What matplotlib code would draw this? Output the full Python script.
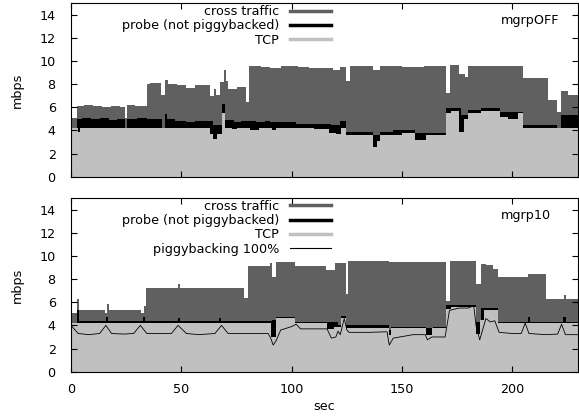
import numpy as np
import matplotlib.pyplot as plt
from matplotlib.lines import Line2D

# ---- mgrpOFF (top panel), step breakpoints: time [sec], rate [mbps] ----
off_cross_t = [0, 2.7, 6, 10, 14, 18, 22, 24.3, 25.5, 29, 34.5, 36, 41, 42.7, 44, 48, 52, 56,
               62.9, 64.8, 65.8, 67.4, 69.4, 70.4, 71.2, 75, 79.5, 80.5, 86, 90, 95, 103, 108,
               118.7, 122, 124.7, 126.2, 137, 140, 150, 160, 170.1, 171.6, 176, 178.4, 180,
               190, 204.8, 216.1, 220, 222.2, 225, 229.6]
off_cross_v = [5.1, 6.1, 6.2, 6.1, 6.0, 6.1, 6.0, 5.1, 6.2, 6.1, 8.0, 8.1, 7.1, 8.4, 8.0, 7.9, 7.7, 7.9,
               7.0, 7.6, 7.1, 8.2, 9.2, 8.3, 7.6, 7.8, 6.5, 9.6, 9.5, 9.4, 9.6, 9.5, 9.4,
               9.2, 9.5, 8.3, 9.6, 9.2, 9.6, 9.5, 9.6, 7.2, 9.7, 8.9, 8.6, 9.6,
               9.6, 8.5, 6.6, 5.6, 7.4, 7.1, 7.1]

off_probe_t = [0, 2.7, 5, 9, 13, 17, 21, 24.3, 25.5, 30, 34.5, 41.3, 42.7, 43.5, 47, 52, 56,
               63, 64.5, 68.5, 70, 74, 77, 80, 84, 88, 90, 95, 102, 112, 118, 122, 124.7,
               137, 140, 146, 156, 170.1, 176.9, 179.9, 186, 194.2, 204.8, 220, 222.2, 229.6]
off_probe_v = [4.2, 5.0, 5.1, 5.0, 5.1, 4.9, 5.0, 4.2, 5.0, 5.1, 5.0, 4.2, 5.4, 5.0, 4.8, 4.7, 4.8,
               4.8, 4.5, 6.3, 4.9, 4.7, 4.8, 4.8, 4.7, 4.8, 4.7, 4.7, 4.6, 4.6, 4.5, 4.8, 3.9,
               3.6, 3.9, 4.0, 3.8, 5.9, 5.3, 5.8, 5.9, 5.6, 4.5, 4.2, 5.3, 5.3]

off_tcp_t = [0, 3, 4, 63, 64.5, 66, 68.5, 70, 73, 75, 81, 85, 91, 93, 110, 117, 120, 122.5,
             124.7, 137, 138.5, 140, 150, 156, 161, 170.1, 172.4, 176, 178, 179.9, 186, 194.2,
             198, 202.6, 204.8, 229.6]
off_tcp_v = [4.2, 3.9, 4.2, 3.7, 3.3, 3.7, 5.5, 4.2, 4.1, 4.2, 4.0, 4.2, 4.0, 4.2, 4.1, 3.8, 3.7, 4.2,
             3.6, 2.6, 3.1, 3.6, 3.8, 3.2, 3.6, 5.5, 5.7, 3.9, 5.0, 5.5, 5.7, 5.2,
             5.0, 5.5, 4.2, 4.2]

# ---- mgrp10 (bottom panel) ----
m10_cross_t = [0, 2.8, 3.5, 15.5, 16.5, 17.3, 31.5, 33, 34.2, 48.5, 49.5, 78.5, 80, 90, 91.2,
               93, 101.5, 115.7, 119.4, 124.6, 125.4, 144, 170, 171.6, 183.7, 186, 188, 191,
               193.5, 207, 215.3, 222, 223.5, 224.5, 229.6]
m10_cross_v = [5.1, 6.3, 5.35, 5.1, 5.85, 5.35, 5.1, 5.7, 7.26, 7.6, 7.26, 6.4, 9.1, 9.4, 8.2,
               9.5, 9.1, 8.8, 9.4, 6.7, 9.55, 9.5, 6.1, 9.6, 7.6, 9.3, 9.2, 8.9,
               8.2, 8.4, 6.3, 6.3, 6.6, 6.3, 6.3]

m10_probe_t = [0, 2.8, 3.6, 15.8, 16.6, 32.8, 33.6, 48.5, 49.5, 67, 68, 90, 91, 93, 101.5,
               117, 121, 122.5, 124.7, 144, 145, 161, 164, 170.1, 183.5, 186, 193.5,
               207, 208.2, 223, 224.2, 229.6]
m10_probe_v = [4.2, 5.35, 4.35, 4.7, 4.35, 4.7, 4.35, 4.6, 4.35, 4.6, 4.35, 4.4, 4.5, 4.7, 4.3,
               4.3, 4.0, 4.8, 4.0, 3.6, 3.9, 3.8, 3.9, 5.8, 4.3, 5.5, 4.3,
               4.7, 4.3, 4.7, 4.3, 4.3]

m10_tcp_t = [0, 90.5, 93, 101.5, 116, 119, 122.5, 124.7, 144, 145, 161, 163.5, 170.1, 172.4,
             183.5, 185.5, 187, 193.5, 229.6]
m10_tcp_v = [4.2, 3.0, 4.6, 4.2, 3.7, 3.9, 4.6, 3.75, 3.2, 3.75, 3.2, 3.75, 5.4, 5.6,
             3.3, 4.5, 5.3, 4.2, 4.2]

m10_pig_t = [0, 3.3, 8, 13, 15.8, 18.4, 24, 28.4, 31.4, 34.4, 40, 45.5, 48.5, 52.3, 58, 65.2,
             68.2, 71.2, 80, 89.3, 90.5, 91.6, 93, 95, 100, 102, 104, 116, 118, 120, 121, 122,
             123.8, 125, 126, 135, 143.2, 144.2, 146, 155, 160.5, 161.5, 163.5, 169.5, 171.5,
             176, 180, 182.5, 183.5, 185.2, 188, 190, 192, 194, 200, 204, 205.8, 207.5, 215,
             220.5, 222.3, 224, 229.6]
m10_pig_v = [4.0, 3.3, 3.2, 3.3, 4.0, 3.3, 3.25, 3.3, 4.0, 3.3, 3.3, 3.3, 4.0, 3.3, 3.2, 3.3,
             4.0, 3.3, 3.3, 3.3, 2.9, 2.3, 2.7, 3.6, 3.9, 4.1, 3.7, 3.7, 2.9, 3.0, 3.5, 3.2,
             4.6, 3.6, 3.4, 3.4, 3.45, 2.3, 2.9, 3.2, 3.2, 2.75, 3.0, 3.0, 5.3,
             5.5, 5.5, 5.7, 4.0, 2.75, 4.6, 4.3, 4.4, 3.4, 3.3, 3.3, 4.2, 3.3, 3.2,
             3.25, 4.1, 3.2, 3.2]

C_CROSS = "#606060"
C_PROBE = "#000000"
C_TCP = "#c0c0c0"
FS = 9.2

fig = plt.figure(figsize=(5.79, 4.17), dpi=100)
ax1 = fig.add_axes([0.1226, 0.5763, 0.8752, 0.4158])
ax2 = fig.add_axes([0.1226, 0.1086, 0.8752, 0.4165])


def draw_panel(ax, cross, probe, tcp, pig, name):
    ax.fill_between(cross[0], 0, cross[1], step="post", color=C_CROSS, lw=0)
    ax.fill_between(probe[0], 0, probe[1], step="post", color=C_PROBE, lw=0)
    ax.fill_between(tcp[0], 0, tcp[1], step="post", color=C_TCP, lw=0)
    handles = [Line2D([], [], color=C_CROSS, lw=2.5, label="cross traffic"),
               Line2D([], [], color=C_PROBE, lw=2.5, label="probe (not piggybacked)"),
               Line2D([], [], color=C_TCP, lw=2.5, label="TCP")]
    if pig is not None:
        ax.plot(pig[0], pig[1], color="black", lw=0.6)
        handles.append(Line2D([], [], color="black", lw=0.8, label="piggybacking 100%"))

    ax.set_xlim(0, 229.6)
    ax.set_ylim(0, 15)
    ax.set_yticks(np.arange(0, 15, 2))
    ax.set_xticks([0, 50, 100, 150, 200])
    ax.tick_params(direction="in", top=True, right=True, length=4, width=0.8,
                   labelsize=FS, pad=8)
    ax.tick_params(axis="y", pad=11)
    ax.set_ylabel("mbps", fontsize=FS)
    ax.yaxis.set_label_coords(-0.093, 0.5)
    for s in ax.spines.values():
        s.set_linewidth(0.8)

    leg = ax.legend(handles=handles, loc="upper right", bbox_to_anchor=(0.513, 0.99),
                    frameon=False, markerfirst=False, fontsize=FS, handlelength=3.2,
                    handletextpad=0.85, labelspacing=0.1, borderpad=0, borderaxespad=0)
    for t in leg.get_texts():
        t.set_ha("right")
    ax.text(0.849, 0.902, name, transform=ax.transAxes, fontsize=FS, va="center", ha="left")


draw_panel(ax1, (off_cross_t, off_cross_v), (off_probe_t, off_probe_v),
           (off_tcp_t, off_tcp_v), None, "mgrpOFF")
draw_panel(ax2, (m10_cross_t, m10_cross_v), (m10_probe_t, m10_probe_v),
           (m10_tcp_t, m10_tcp_v), (m10_pig_t, m10_pig_v), "mgrp10")

ax1.tick_params(labelbottom=False)
ax2.set_xlabel("sec", fontsize=FS)
ax2.xaxis.set_label_coords(0.5, -0.16)

fig.savefig("out.png", dpi=100)
